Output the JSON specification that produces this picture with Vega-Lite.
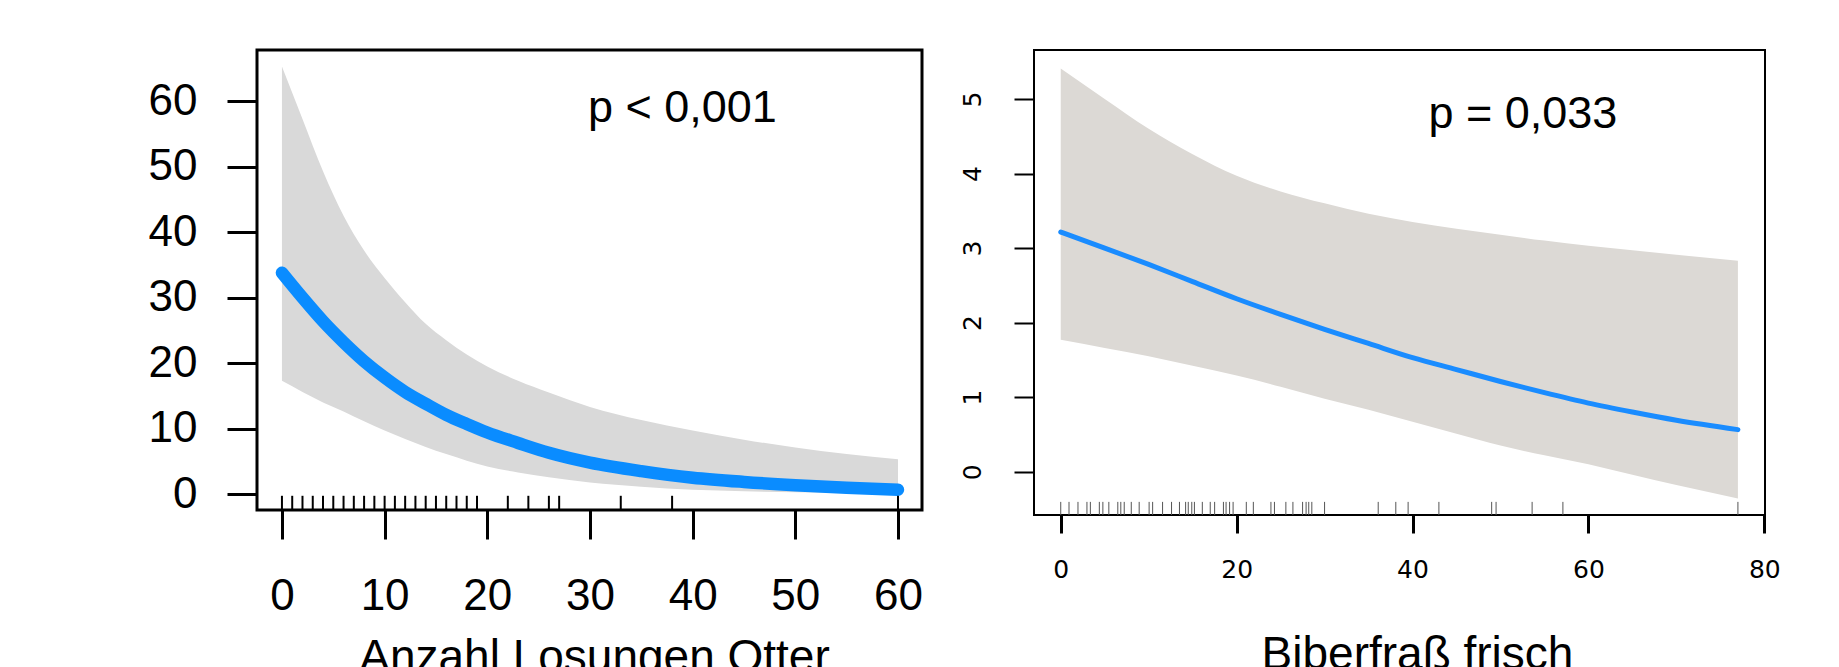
{
  "$schema": "https://vega.github.io/schema/vega-lite/v6.json",
  "background": "white",
  "padding": {"left": 146, "top": 48, "right": 0, "bottom": 0},
  "spacing": 34,
  "config": {
    "view": {"stroke": "black"},
    "axis": {"grid": false, "domain": false, "tickColor": "black", "labelColor": "black", "titleColor": "black", "labelFlush": false, "labelOverlap": false, "titleFontWeight": "normal", "titleFont": "Liberation Sans"}
  },
  "datasets": {
    "otter": [
      {"x": 0, "fit": 33.8, "lower": 17.3, "upper": 65.3},
      {"x": 2, "fit": 30.0, "lower": 15.6, "upper": 57.3},
      {"x": 4, "fit": 26.4, "lower": 14.0, "upper": 49.3},
      {"x": 6, "fit": 23.2, "lower": 12.6, "upper": 42.5},
      {"x": 8, "fit": 20.3, "lower": 11.1, "upper": 37.2},
      {"x": 10, "fit": 17.8, "lower": 9.7, "upper": 33.0},
      {"x": 12, "fit": 15.6, "lower": 8.4, "upper": 29.3},
      {"x": 14, "fit": 13.8, "lower": 7.2, "upper": 26.0},
      {"x": 16, "fit": 12.1, "lower": 6.1, "upper": 23.5},
      {"x": 18, "fit": 10.7, "lower": 5.1, "upper": 21.3},
      {"x": 20, "fit": 9.4, "lower": 4.2, "upper": 19.5},
      {"x": 23, "fit": 7.8, "lower": 3.3, "upper": 17.3},
      {"x": 26, "fit": 6.3, "lower": 2.55, "upper": 15.5},
      {"x": 30, "fit": 4.8, "lower": 1.75, "upper": 13.3},
      {"x": 35, "fit": 3.5, "lower": 1.1, "upper": 11.3},
      {"x": 40, "fit": 2.5, "lower": 0.65, "upper": 9.7},
      {"x": 45, "fit": 1.85, "lower": 0.42, "upper": 8.3},
      {"x": 50, "fit": 1.35, "lower": 0.26, "upper": 7.1},
      {"x": 55, "fit": 0.95, "lower": 0.18, "upper": 6.1},
      {"x": 60, "fit": 0.65, "lower": 0.12, "upper": 5.3}
    ],
    "otterRug": [
      {"x": 0}, {"x": 1}, {"x": 2}, {"x": 3}, {"x": 4}, {"x": 5}, {"x": 6}, {"x": 7}, {"x": 8}, {"x": 9},
      {"x": 10}, {"x": 11}, {"x": 12}, {"x": 13}, {"x": 14}, {"x": 15}, {"x": 16}, {"x": 17}, {"x": 18}, {"x": 19},
      {"x": 22}, {"x": 24}, {"x": 26}, {"x": 27}, {"x": 33}, {"x": 38}, {"x": 60}
    ],
    "biber": [
      {"x": 0, "fit": 3.215, "lower": 1.77, "upper": 5.41},
      {"x": 5, "fit": 3.0, "lower": 1.66, "upper": 5.0},
      {"x": 10, "fit": 2.78, "lower": 1.55, "upper": 4.6},
      {"x": 15, "fit": 2.55, "lower": 1.42, "upper": 4.26},
      {"x": 20, "fit": 2.32, "lower": 1.29, "upper": 3.97},
      {"x": 25, "fit": 2.11, "lower": 1.14, "upper": 3.76},
      {"x": 30, "fit": 1.91, "lower": 0.98, "upper": 3.6},
      {"x": 35, "fit": 1.72, "lower": 0.83, "upper": 3.46},
      {"x": 40, "fit": 1.53, "lower": 0.67, "upper": 3.35},
      {"x": 45, "fit": 1.37, "lower": 0.51, "upper": 3.26},
      {"x": 50, "fit": 1.21, "lower": 0.35, "upper": 3.18},
      {"x": 55, "fit": 1.06, "lower": 0.22, "upper": 3.1},
      {"x": 60, "fit": 0.92, "lower": 0.1, "upper": 3.03},
      {"x": 65, "fit": 0.8, "lower": -0.04, "upper": 2.97},
      {"x": 70, "fit": 0.69, "lower": -0.18, "upper": 2.91},
      {"x": 77, "fit": 0.564, "lower": -0.36, "upper": 2.83}
    ],
    "biberRug": [
      {"x": 0}, {"x": 0.94}, {"x": 1.96}, {"x": 2.98}, {"x": 3.37}, {"x": 4.39}, {"x": 4.79}, {"x": 5.47}, {"x": 6.49}, {"x": 6.83},
      {"x": 7.22}, {"x": 8.02}, {"x": 8.92}, {"x": 10.05}, {"x": 10.45}, {"x": 11.58}, {"x": 12.6}, {"x": 13.5}, {"x": 14.2}, {"x": 14.5},
      {"x": 14.9}, {"x": 15.2}, {"x": 16.1}, {"x": 17.0}, {"x": 17.5}, {"x": 18.5}, {"x": 18.8}, {"x": 19.2}, {"x": 19.6}, {"x": 21.1},
      {"x": 21.9}, {"x": 23.9}, {"x": 24.3}, {"x": 25.6}, {"x": 26.4}, {"x": 27.5}, {"x": 27.9}, {"x": 28.2}, {"x": 28.55}, {"x": 30.0},
      {"x": 36.1}, {"x": 38.1}, {"x": 39.5}, {"x": 43.0}, {"x": 49.0}, {"x": 49.5}, {"x": 53.6}, {"x": 57.1}, {"x": 77.0}
    ]
  },
  "hconcat": [
    {
      "width": 665,
      "height": 460,
      "view": {"stroke": "black", "strokeWidth": 3},
      "layer": [
        {
          "data": {"name": "otter"},
          "mark": {"type": "area", "color": "#d9d9d9", "interpolate": "monotone"},
          "encoding": {
            "x": {"field": "x", "type": "quantitative",
              "scale": {"domain": [-2.43, 62.34], "nice": false, "zero": false},
              "axis": {"values": [0, 10, 20, 30, 40, 50, 60], "tickSize": 29, "tickWidth": 3, "labelFont": "Liberation Sans", "labelFontSize": 44, "labelPadding": 35, "title": "Anzahl Losungen Otter", "titleFontSize": 46, "titlePadding": 17, "titleX": 337}},
            "y": {"field": "upper", "type": "quantitative",
              "scale": {"domain": [-2.44, 67.83], "nice": false, "zero": false},
              "axis": {"values": [0, 10, 20, 30, 40, 50, 60], "tickSize": 30, "tickWidth": 3, "labelFont": "Liberation Sans", "labelFontSize": 44, "labelPadding": 30, "title": null}},
            "y2": {"field": "lower"}
          }
        },
        {
          "data": {"name": "otter"},
          "mark": {"type": "line", "color": "#0a8cff", "strokeWidth": 12.5, "strokeCap": "round", "interpolate": "monotone"},
          "encoding": {
            "x": {"field": "x", "type": "quantitative"},
            "y": {"field": "fit", "type": "quantitative"}
          }
        },
        {
          "data": {"name": "otterRug"},
          "mark": {"type": "rule", "color": "black", "strokeWidth": 2},
          "encoding": {
            "x": {"field": "x", "type": "quantitative"},
            "y": {"datum": -2.44},
            "y2": {"datum": -0.27}
          }
        },
        {
          "data": {"values": [{"label": "p < 0,001"}]},
          "mark": {"type": "text", "font": "Liberation Sans", "fontSize": 45, "align": "center", "baseline": "alphabetic", "color": "black"},
          "encoding": {
            "x": {"datum": 39},
            "y": {"datum": 56.8},
            "text": {"field": "label"}
          }
        }
      ]
    },
    {
      "width": 731,
      "height": 465,
      "view": {"stroke": "black", "strokeWidth": 2},
      "layer": [
        {
          "data": {"name": "biber"},
          "mark": {"type": "area", "color": "#dcd9d5", "interpolate": "monotone"},
          "encoding": {
            "x": {"field": "x", "type": "quantitative",
              "scale": {"domain": [-3.04, 80.08], "nice": false, "zero": false},
              "axis": {"values": [0, 20, 40, 60, 80], "format": "d", "tickSize": 18, "tickWidth": 3, "labelFont": "DejaVu Sans", "labelFontSize": 25, "labelPadding": 24, "title": "Biberfraß frisch", "titleFontSize": 46, "titlePadding": 50, "titleX": 383}},
            "y": {"field": "upper", "type": "quantitative",
              "scale": {"domain": [-0.581, 5.657], "nice": false, "zero": false},
              "axis": {"values": [0, 1, 2, 3, 4, 5], "format": "d", "tickSize": 20, "tickWidth": 2, "labelFont": "DejaVu Sans", "labelFontSize": 25, "labelAngle": -90, "labelAlign": "center", "labelBaseline": "alphabetic", "labelPadding": 34, "title": null}},
            "y2": {"field": "lower"}
          }
        },
        {
          "data": {"name": "biber"},
          "mark": {"type": "line", "color": "#1a8cff", "strokeWidth": 5, "strokeCap": "round", "interpolate": "monotone"},
          "encoding": {
            "x": {"field": "x", "type": "quantitative"},
            "y": {"field": "fit", "type": "quantitative"}
          }
        },
        {
          "data": {"name": "biberRug"},
          "mark": {"type": "rule", "color": "#555555", "strokeWidth": 1},
          "encoding": {
            "x": {"field": "x", "type": "quantitative"},
            "y": {"datum": -0.581},
            "y2": {"datum": -0.405}
          }
        },
        {
          "data": {"values": [{"label": "p = 0,033"}]},
          "mark": {"type": "text", "font": "Liberation Sans", "fontSize": 45, "align": "center", "baseline": "alphabetic", "color": "black"},
          "encoding": {
            "x": {"datum": 52.55},
            "y": {"datum": 4.606},
            "text": {"field": "label"}
          }
        }
      ]
    }
  ]
}
